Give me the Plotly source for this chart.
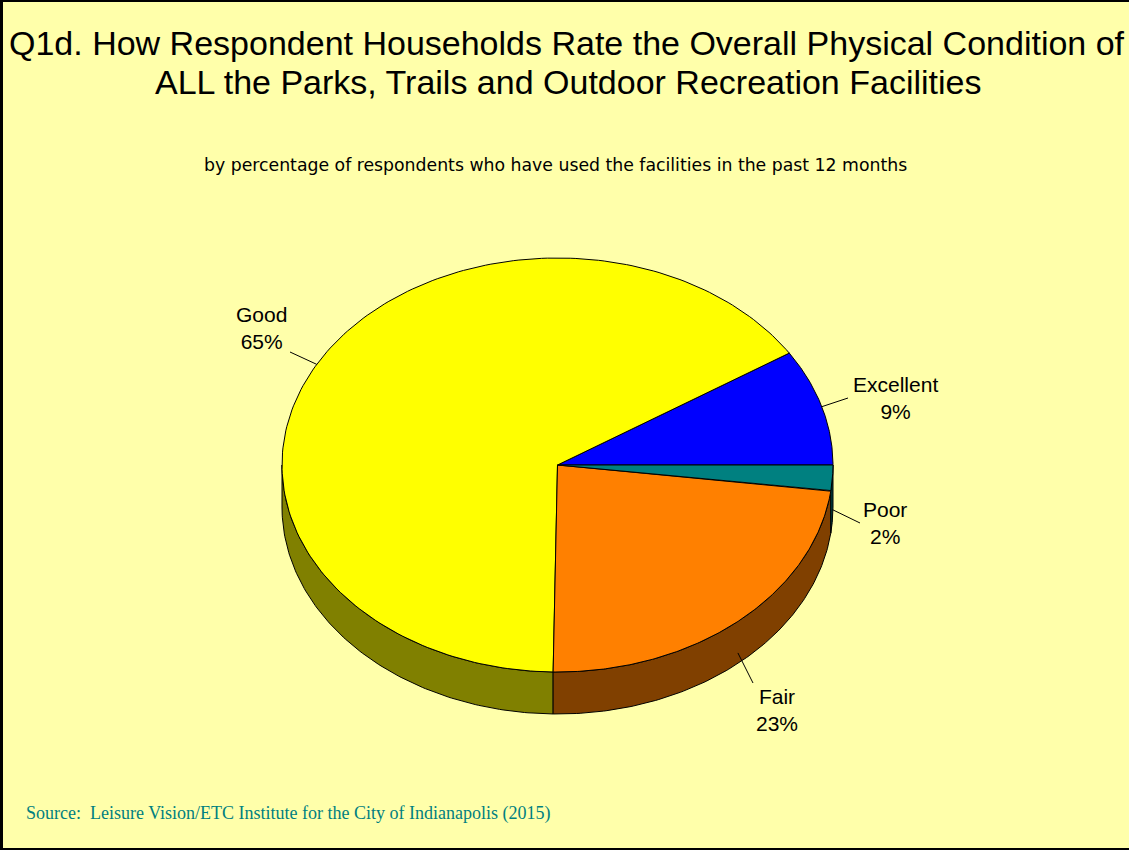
import numpy as np
import plotly.graph_objects as go

# ---- data ----
categories = ["Excellent", "Good", "Fair", "Poor"]
values = [9, 65, 23, 2]
top_colors = ["#0000FF", "#FFFF00", "#FF8000", "#008080"]
side_colors = ["#000080", "#808000", "#804000", "#004040"]

title_lines = ["Q1d. How Respondent Households Rate the Overall Physical Condition of",
               "ALL the Parks, Trails and Outdoor Recreation Facilities"]
subtitle_text = "by percentage of respondents who have used the facilities in the past 12 months"
source_text = "Source:  Leisure Vision/ETC Institute for the City of Indianapolis (2015)"

# ---- layout geometry (pixels) ----
W, H = 1129, 850
cx, cy = 557.5, 465.0
rx, ry = 275.5, 207.0
depth = 42.0
bg = "#FFFFAA"
label_pos = {
    "Excellent": dict(line_end=(848, 398), text=(895, 398)),
    "Good": dict(line_end=(290, 352), text=(261, 328)),
    "Fair": dict(line_end=(753, 683), text=(777, 710)),
    "Poor": dict(line_end=(860, 523), text=(885, 523)),
}


def ell(t_deg, dy=0.0):
    t = np.radians(t_deg)
    return cx + rx * np.cos(t), cy - ry * np.sin(t) + dy


fig = go.Figure()
total = float(sum(values))
angles = []
a = 0.0
for v in values:
    span = 360.0 * v / total
    angles.append((a, a + span))
    a += span

# sides (visible lower half: 180..360)
for (a0, a1), sc in zip(angles, side_colors):
    b0, b1 = max(a0, 180.0), min(a1, 360.0)
    if b1 <= b0:
        continue
    ts = np.linspace(b0, b1, 120)
    xt, yt = ell(ts)
    xb, yb = ell(ts[::-1], depth)
    xs = np.concatenate([xt, xb, xt[:1]])
    ys = np.concatenate([yt, yb, yt[:1]])
    fig.add_trace(go.Scatter(x=xs, y=ys, mode="lines", fill="toself",
                             fillcolor=sc, line=dict(color="black", width=1),
                             hoverinfo="skip", showlegend=False))

# top faces
for (a0, a1), tc in zip(angles, top_colors):
    ts = np.linspace(a0, a1, 200)
    xt, yt = ell(ts)
    xs = np.concatenate([[cx], xt, [cx]])
    ys = np.concatenate([[cy], yt, [cy]])
    fig.add_trace(go.Scatter(x=xs, y=ys, mode="lines", fill="toself",
                             fillcolor=tc, line=dict(color="black", width=1),
                             hoverinfo="skip", showlegend=False))

# labels and leader lines
for cat, v, (a0, a1) in zip(categories, values, angles):
    mid = (a0 + a1) / 2.0
    mx, my = ell(mid)
    if 180 < mid < 360:
        my += depth * 0.75
    lp = label_pos[cat]
    ex, ey = lp["line_end"]
    fig.add_trace(go.Scatter(x=[mx, ex], y=[my, ey], mode="lines",
                             line=dict(color="black", width=1),
                             hoverinfo="skip", showlegend=False))
    tx, ty = lp["text"]
    fig.add_annotation(x=tx, y=ty, text=f"{cat}<br>{v}%", showarrow=False,
                       font=dict(family="Liberation Sans, Arial", size=21, color="#000000"),
                       align="center", xanchor="center", yanchor="middle")

# titles
for line, (tx, ty) in zip(title_lines, [(567, 43), (568, 82)]):
    fig.add_annotation(x=tx, y=ty, text=line, showarrow=False,
                       font=dict(family="Liberation Sans, Arial", size=34, color="#000000"),
                       xanchor="center", yanchor="middle")
fig.add_annotation(x=555, y=165, text=subtitle_text, showarrow=False,
                   font=dict(family="DejaVu Sans, Arial", size=17.3, color="#000000"),
                   xanchor="center", yanchor="middle")
fig.add_annotation(x=24, y=813, text=source_text, showarrow=False,
                   font=dict(family="Liberation Serif, Times New Roman", size=18, color="#008080"),
                   xanchor="left", yanchor="middle")

# frame (left, top, bottom)
fig.add_shape(type="line", x0=1.5, x1=1.5, y0=0, y1=H, line=dict(color="black", width=3))
fig.add_shape(type="line", x0=0, x1=W, y0=1, y1=1, line=dict(color="black", width=2))
fig.add_shape(type="line", x0=0, x1=W, y0=H - 1, y1=H - 1, line=dict(color="black", width=2))

fig.update_layout(
    width=W, height=H,
    margin=dict(l=0, r=0, t=0, b=0),
    paper_bgcolor=bg, plot_bgcolor=bg,
    xaxis=dict(range=[0, W], visible=False, fixedrange=True),
    yaxis=dict(range=[H, 0], visible=False, fixedrange=True),
    showlegend=False,
)

fig.write_html("out.html", config={"displayModeBar": False},
               post_script="document.body.style.margin='0';document.body.style.overflow='hidden';")
